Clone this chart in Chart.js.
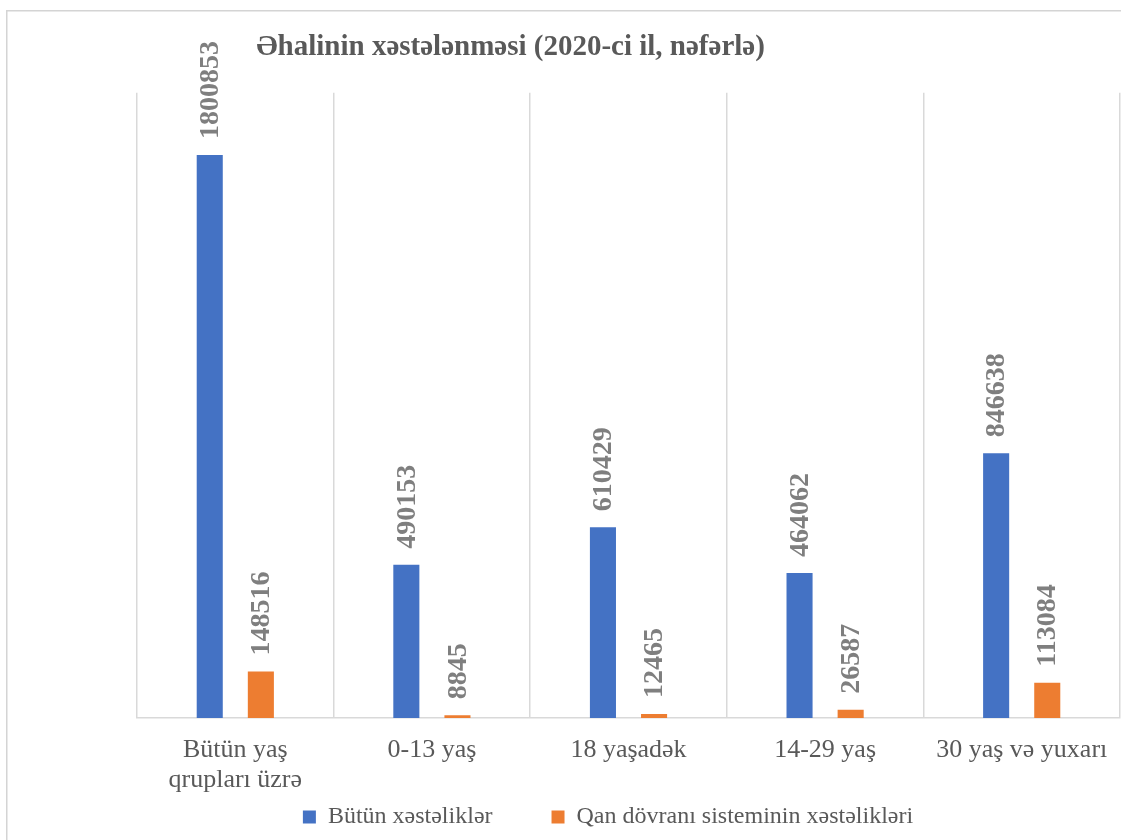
<!DOCTYPE html>
<html lang="az">
<head>
<meta charset="utf-8">
<title>Əhalinin xəstələnməsi (2020-ci il, nəfərlə)</title>
<script src="https://cdn.jsdelivr.net/npm/chart.js@4/dist/chart.umd.min.js"></script>
<style>
  html, body { margin: 0; padding: 0; background: #ffffff; }
  canvas { display: block; }
</style>
</head>
<body>
<canvas id="chart" width="1121" height="840"></canvas>
<script>
// Age groups shown along the horizontal axis
const categories = [
  ["Bütün yaş", "qrupları üzrə"],
  "0-13 yaş",
  "18 yaşadək",
  "14-29 yaş",
  "30 yaş və yuxarı"
];

// Series names
const seriesNames = ["Bütün xəstəliklər", "Qan dövranı sisteminin xəstəlikləri"];

// Number of registered cases per age group
const allDiseases = [1800853, 490153, 610429, 464062, 846638];
const circulatoryDiseases = [148516, 8845, 12465, 26587, 113084];

const titleText = "Əhalinin xəstələnməsi (2020-ci il, nəfərlə)";
const valueAxisMax = 2000000;

const serif = "'Liberation Serif', 'Times New Roman', serif";
const textGray = "#595959";
const gridGray = "#d9d9d9";

// Thin frame around the chart space
const framePlugin = {
  id: "frame",
  beforeDraw(chart) {
    const ctx = chart.ctx;
    ctx.save();
    ctx.strokeStyle = "#d4d4d4";
    ctx.lineWidth = 1.5;
    ctx.beginPath();
    ctx.moveTo(6.75, chart.height);
    ctx.lineTo(6.75, 10.75);
    ctx.lineTo(chart.width, 10.75);
    ctx.stroke();
    ctx.restore();
  }
};

// Legend takes little room in the layout; it is placed explicitly afterwards
const blockPlacement = {
  id: "blockPlacement",
  beforeLayout(chart) {
    const legend = chart.legend;
    if (legend && !legend._compactFit) {
      const originalFit = legend.fit.bind(legend);
      legend.fit = function () {
        originalFit();
        this.height = 42;
      };
      legend._compactFit = true;
    }
  },
  afterLayout(chart) {
    if (chart.titleBlock) {
      chart.titleBlock.left = 0;
      chart.titleBlock.right = 1021;
    }
    if (chart.legend) {
      chart.legend.left = 95;
      chart.legend.right = 1121;
      chart.legend.top = 746;
      chart.legend.bottom = 840;
    }
  }
};

// Vertical value labels above each bar
const valueLabels = {
  id: "valueLabels",
  afterDatasetsDraw(chart) {
    const ctx = chart.ctx;
    ctx.save();
    ctx.font = "bold 28px " + serif;
    ctx.fillStyle = "#7f7f7f";
    ctx.textAlign = "left";
    ctx.textBaseline = "middle";
    chart.data.datasets.forEach((ds, di) => {
      const meta = chart.getDatasetMeta(di);
      meta.data.forEach((bar, i) => {
        ctx.save();
        ctx.translate(bar.x, bar.y - 16);
        ctx.rotate(-Math.PI / 2);
        ctx.fillText(String(ds.data[i]), 0, 1);
        ctx.restore();
      });
    });
    ctx.restore();
  }
};

new Chart(document.getElementById("chart"), {
  type: "bar",
  data: {
    labels: categories,
    datasets: [
      {
        label: seriesNames[0],
        data: allDiseases,
        backgroundColor: "#4472C4",
        categoryPercentage: 0.52,
        barPercentage: 0.51
      },
      {
        label: seriesNames[1],
        data: circulatoryDiseases,
        backgroundColor: "#ED7D31",
        categoryPercentage: 0.52,
        barPercentage: 0.51
      }
    ]
  },
  options: {
    responsive: false,
    animation: false,
    devicePixelRatio: 1,
    layout: { padding: { left: 137, right: 1, top: 0, bottom: 0 } },
    plugins: {
      title: {
        display: true,
        text: titleText,
        color: textGray,
        font: { family: serif, size: 29, weight: "bold", lineHeight: 1.2 },
        padding: { top: 30, bottom: 28 }
      },
      legend: {
        position: "bottom",
        labels: {
          color: textGray,
          font: { family: serif, size: 24 },
          boxWidth: 13,
          boxHeight: 13,
          padding: 59
        }
      },
      tooltip: { enabled: false }
    },
    scales: {
      x: {
        grid: {
          display: true,
          offset: true,
          color: gridGray,
          lineWidth: 1.5,
          drawTicks: false
        },
        border: { display: true, color: gridGray, width: 1.5 },
        ticks: {
          color: textGray,
          font: { family: serif, size: 26, lineHeight: 1.15 },
          padding: 17,
          maxRotation: 0,
          autoSkip: false
        },
        afterFit(scale) {
          scale.height = 80;
          scale.paddingLeft = 0;
          scale.paddingRight = 0;
        }
      },
      y: {
        display: false,
        min: 0,
        max: valueAxisMax
      }
    }
  },
  plugins: [framePlugin, blockPlacement, valueLabels]
});
</script>
</body>
</html>
